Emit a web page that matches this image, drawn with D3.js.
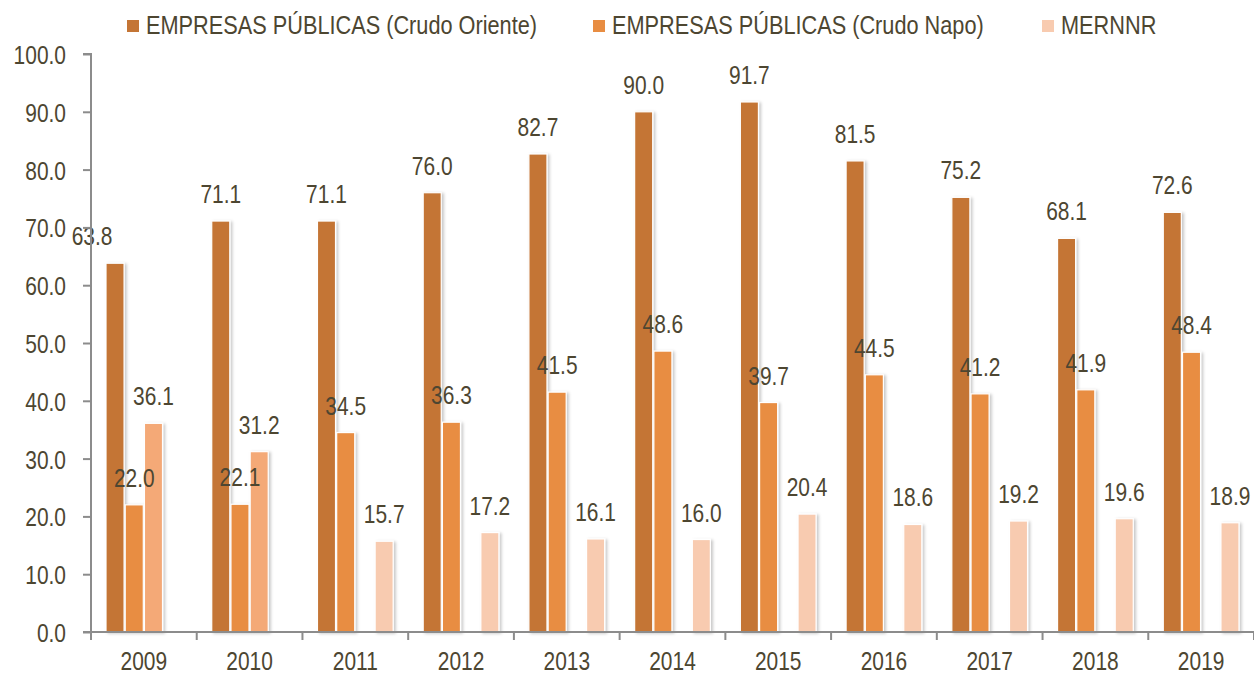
<!DOCTYPE html>
<html>
<head>
<meta charset="utf-8">
<script src="https://cdn.jsdelivr.net/npm/d3@7"></script>
<style>
  body { margin: 0; background: #fff; }
  text { font-family: "Liberation Sans", Arial, sans-serif; fill: #4d4631; }
</style>
</head>
<body>
<svg></svg>
<script>
// chart data
const years = ["2009", "2010", "2011", "2012", "2013", "2014", "2015", "2016", "2017", "2018", "2019"];
const crudoOriente = [63.8, 71.1, 71.1, 76.0, 82.7, 90.0, 91.7, 81.5, 75.2, 68.1, 72.6];
const crudoNapo = [22.0, 22.1, 34.5, 36.3, 41.5, 48.6, 39.7, 44.5, 41.2, 41.9, 48.4];
const mernnrPrev = [36.1, 31.2, null, null, null, null, null, null, null, null, null]; // no legend entry
const mernnr = [null, null, 15.7, 17.2, 16.1, 16.0, 20.4, 18.6, 19.2, 19.6, 18.9];
const yTicks = [0, 10, 20, 30, 40, 50, 60, 70, 80, 90, 100];

const seriesList = [
    { key: "oriente", name: "EMPRESAS PÚBLICAS (Crudo Oriente)", values: crudoOriente, color: "#c47535", legend: true },
    { key: "napo", name: "EMPRESAS PÚBLICAS (Crudo Napo)", values: crudoNapo, color: "#e88d42", legend: true },
    { key: "prev", name: "", values: mernnrPrev, color: "#f4a977", legend: false },
    { key: "mernnr", name: "MERNNR", values: mernnr, color: "#f8cbb0", legend: true }
];

const W = 1254, H = 676;
const margin = { top: 54, right: 0, bottom: 44, left: 91 };
const w = W - margin.left - margin.right;
const h = H - margin.top - margin.bottom;
const FS = 26.5;    // font size
const NARROW = 0.79; // horizontal squeeze, the original uses a narrow face

const svg = d3.select("svg").attr("width", W).attr("height", H);

// narrow text: squeeze horizontally around the anchor point
function narrowText(sel, x, y, k) {
    return sel.attr("transform", (d, i) => `translate(${x(d, i)},${y(d, i)}) scale(${k || NARROW},1)`)
        .attr("font-size", FS);
}

// soft shadow like the original
const defs = svg.append("defs");
const f = defs.append("filter").attr("id", "shadow")
    .attr("x", "-30%").attr("y", "-10%").attr("width", "160%").attr("height", "120%");
f.append("feDropShadow").attr("dx", 2).attr("dy", 1).attr("stdDeviation", 1.6)
    .attr("flood-color", "#000").attr("flood-opacity", 0.22);

const chart = svg.append("g").attr("transform", `translate(${margin.left},${margin.top})`);

const x0 = d3.scaleBand().domain(years).range([0, w]).padding(0);
const x1 = d3.scaleBand().domain(seriesList.map(s => s.key))
    .range([15, x0.bandwidth() - 15]).paddingInner(0.06);
const y = d3.scaleLinear().domain([0, 100]).range([h, 0]);

// bars
seriesList.forEach(s => {
    const pts = years.map((yr, i) => ({ year: yr, v: s.values[i] })).filter(d => d.v != null);
    chart.append("g").selectAll("rect")
        .data(pts)
        .join("rect")
        .attr("x", d => x0(d.year) + x1(s.key))
        .attr("y", d => y(d.v))
        .attr("width", x1.bandwidth())
        .attr("height", d => h - y(d.v))
        .attr("fill", s.color)
        .attr("stroke", "#fff")
        .attr("stroke-width", 1.2)
        .attr("filter", "url(#shadow)");
});

// value labels (the 2009 Oriente label sits left of its bar in the original)
const labelNudge = { "oriente-2009": -23 };
seriesList.forEach(s => {
    const pts = years.map((yr, i) => ({ year: yr, v: s.values[i] })).filter(d => d.v != null);
    chart.append("g").selectAll("text")
        .data(pts)
        .join("text")
        .call(narrowText,
            d => x0(d.year) + x1(s.key) + x1.bandwidth() / 2 + (labelNudge[s.key + "-" + d.year] || 0),
            d => y(d.v) - 18)
        .attr("text-anchor", "middle")
        .text(d => d.v.toFixed(1));
});

// y axis
const yAxis = d3.axisLeft(y).tickValues(yTicks).tickFormat(d => d.toFixed(1)).tickSize(8).tickPadding(16);
const yg = chart.append("g").call(yAxis);
yg.select(".domain").attr("stroke", "#8c8c8c").attr("stroke-width", 2).attr("d", `M-8,0H0V${h}H-8`);
yg.selectAll(".tick line").attr("stroke", "#8c8c8c").attr("stroke-width", 2);
yg.selectAll(".tick text")
    .attr("font-family", null).attr("fill", null).attr("dy", null)
    .attr("x", null)
    .call(narrowText, () => -25, () => 9.5);

// x axis: line plus ticks at the band edges
const xg = chart.append("g").attr("transform", `translate(0,${h})`);
xg.append("line").attr("x1", 0).attr("x2", w).attr("stroke", "#8c8c8c").attr("stroke-width", 2);
const edges = years.map(d => x0(d)).concat([w]);
xg.selectAll("line.edge")
    .data(edges)
    .join("line")
    .attr("class", "edge")
    .attr("x1", d => d).attr("x2", d => d)
    .attr("y1", 0).attr("y2", 8)
    .attr("stroke", "#8c8c8c").attr("stroke-width", 2);
xg.selectAll("text.year")
    .data(years)
    .join("text")
    .attr("class", "year")
    .call(narrowText, d => x0(d) + x0.bandwidth() / 2, () => 38)
    .attr("text-anchor", "middle")
    .text(d => d);

// legend
const legendX = [127, 593, 1042];
const leg = svg.append("g");
seriesList.filter(s => s.legend).forEach((s, i) => {
    const g = leg.append("g").attr("transform", `translate(${legendX[i]},20)`);
    g.append("rect").attr("width", 12).attr("height", 12).attr("fill", s.color);
    g.append("text").call(narrowText, () => 19, () => 14, 0.82).text(s.name);
});
</script>
</body>
</html>
